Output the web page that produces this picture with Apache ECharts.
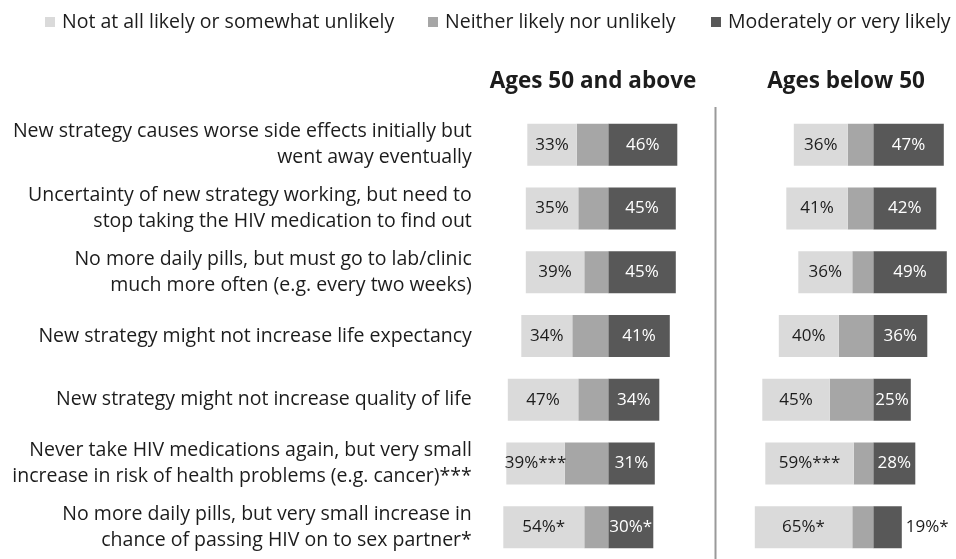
<!DOCTYPE html>
<html>
<head>
<meta charset="utf-8">
<script src="https://cdn.jsdelivr.net/npm/echarts@6/dist/echarts.min.js"></script>
<style>
  html, body { margin: 0; padding: 0; background: #ffffff; }
  #chart { width: 956px; height: 559px; }
</style>
</head>
<body>
<div id="chart"></div>
<script>
// Statements rated by likelihood of participating in a cure study
const categories = [
  'New strategy causes worse side effects initially but\nwent away eventually',
  'Uncertainty of new strategy working, but need to\nstop taking the HIV medication to find out',
  'No more daily pills, but must go to lab/clinic\nmuch more often (e.g. every two weeks)',
  'New strategy might not increase life expectancy',
  'New strategy might not increase quality of life',
  'Never take HIV medications again, but very small\nincrease in risk of health problems (e.g. cancer)***',
  'No more daily pills, but very small increase in\nchance of passing HIV on to sex partner*'
];

const seriesNames = [
  'Not at all likely or somewhat unlikely',
  'Neither likely nor unlikely',
  'Moderately or very likely'
];

const panelTitles = ['Ages 50 and above', 'Ages below 50'];

// Ages 50 and above (percent)
const olderUnlikely = [33, 35, 39, 34, 47, 39, 54];
const olderNeutral  = [21, 20, 16, 24, 20, 29, 16];
const olderLikely   = [46, 45, 45, 41, 34, 31, 30];
const olderUnlikelyMark = ['', '', '', '', '', '***', '*'];
const olderLikelyMark   = ['', '', '', '', '', '', '*'];

// Ages below 50 (percent)
const youngerUnlikely = [36, 41, 36, 40, 45, 59, 65];
const youngerNeutral  = [17, 17, 14, 23, 29, 13, 14];
const youngerLikely   = [47, 42, 49, 36, 25, 28, 19];
const youngerUnlikelyMark = ['', '', '', '', '', '***', '*'];
const youngerLikelyMark   = ['', '', '', '', '', '', '*'];

const FONT = '"Open Sans", "Noto Sans", sans-serif';
const TEXT = '#1c1c1c';
const COLORS = ['#dadada', '#a6a6a6', '#585858'];

const chart = echarts.init(document.getElementById('chart'), null, { renderer: 'canvas' });

// One diverging panel: the "likely" share runs right of zero,
// neutral and "unlikely" shares stack leftwards from zero.
function panelSeries(idx, unlikely, neutral, likely, uMark, lMark) {
  const stack = 'p' + idx;
  const common = {
    type: 'bar', stack: stack, barWidth: 42,
    xAxisIndex: idx, yAxisIndex: idx,
    emphasis: { disabled: true }, silent: true
  };
  return [
    Object.assign({}, common, {
      name: seriesNames[2],
      itemStyle: { color: COLORS[2] },
      data: likely.map((v, i) => {
        const outside = v < 20;
        return {
          value: v,
          label: {
            show: true,
            position: outside ? 'right' : 'inside',
            distance: 4,
            color: outside ? TEXT : '#ffffff',
            fontFamily: FONT, fontSize: 17,
            formatter: v + '%' + lMark[i]
          }
        };
      })
    }),
    Object.assign({}, common, {
      name: seriesNames[1],
      itemStyle: { color: COLORS[1] },
      data: neutral.map(v => -v)
    }),
    Object.assign({}, common, {
      name: seriesNames[0],
      itemStyle: { color: COLORS[0] },
      data: unlikely.map((v, i) => ({
        value: -v,
        label: {
          show: true, position: 'inside', color: TEXT,
          fontFamily: FONT, fontSize: 17,
          formatter: v + '%' + uMark[i]
        }
      }))
    })
  ];
}

const grids = [
  { left: 495.8, width: 187.5, top: 113, height: 448 },
  { left: 745.8, width: 202.5, top: 113, height: 448 }
];
const xRanges = [[-75, 50], [-85, 50]];

function legendAt(left, name) {
  return {
    data: [name], left: left, top: 12, padding: 0,
    icon: 'rect', itemWidth: 10, itemHeight: 10,
    selectedMode: false,
    textStyle: { fontFamily: FONT, fontSize: 19.5, color: TEXT, padding: [0, 0, 0, 2] }
  };
}

const option = {
  backgroundColor: '#ffffff',
  animation: false,
  color: COLORS,
  title: [
    { text: panelTitles[0], left: 593, top: 70, textAlign: 'center', padding: 0,
      textStyle: { fontFamily: FONT, fontSize: 22.5, fontWeight: 'bold', color: TEXT } },
    { text: panelTitles[1], left: 846, top: 70, textAlign: 'center', padding: 0,
      textStyle: { fontFamily: FONT, fontSize: 22.5, fontWeight: 'bold', color: TEXT } }
  ],
  legend: [
    legendAt(45, seriesNames[0]),
    legendAt(428, seriesNames[1]),
    legendAt(711, seriesNames[2])
  ],
  grid: grids,
  xAxis: grids.map((g, i) => ({
    type: 'value', gridIndex: i,
    min: xRanges[i][0], max: xRanges[i][1],
    show: false
  })),
  yAxis: grids.map((g, i) => ({
    type: 'category', gridIndex: i, inverse: true,
    data: categories,
    axisLine: { show: false }, axisTick: { show: false },
    splitLine: { show: false },
    axisLabel: {
      show: i === 0,
      margin: 24,
      align: 'right',
      fontFamily: FONT, fontSize: 19.5, lineHeight: 26, color: TEXT
    }
  })),
  graphic: [
    {
      type: 'line', silent: true,
      shape: { x1: 715.5, y1: 107, x2: 715.5, y2: 559 },
      style: { stroke: '#9a9a9a', lineWidth: 2 }
    }
  ],
  series: [].concat(
    panelSeries(0, olderUnlikely, olderNeutral, olderLikely, olderUnlikelyMark, olderLikelyMark),
    panelSeries(1, youngerUnlikely, youngerNeutral, youngerLikely, youngerUnlikelyMark, youngerLikelyMark)
  )
};

chart.setOption(option);
</script>
</body>
</html>
